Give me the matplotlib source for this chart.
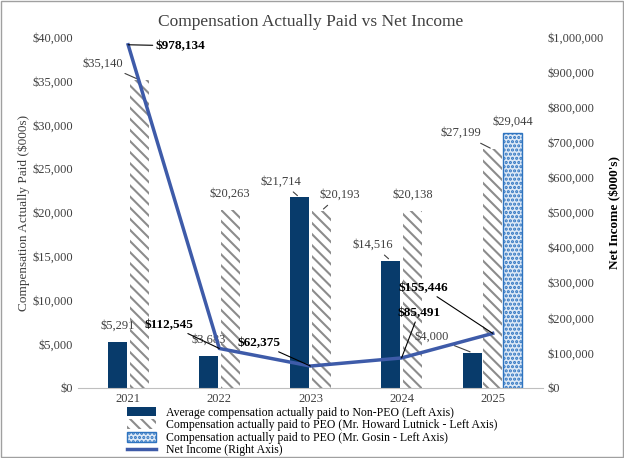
import numpy as np
import matplotlib.pyplot as plt
from matplotlib.ticker import FuncFormatter

plt.rcParams['font.family'] = ['Liberation Serif', 'DejaVu Serif']
plt.rcParams['hatch.linewidth'] = 1.5

years = ['2021', '2022', '2023', '2024', '2025']
non_peo = [5291, 3683, 21714, 14516, 4000]
lutnick = [35140, 20263, 20193, 20138, 27199]
gosin = [None, None, None, None, 29044]
net_income = [978134, 112545, 62375, 85491, 155446]

navy = '#083B6B'
line_c = '#3E5BA9'
x = np.arange(len(years))
w = 0.21

fig = plt.figure(figsize=(6.24, 4.58), dpi=100)
ax = fig.add_axes([0.125, 0.153, 0.745, 0.766])
ax2 = ax.twinx()

off_n = [-0.12, -0.12, -0.12, -0.12, -0.22]
off_l = [0.12, 0.12, 0.12, 0.12, 0.0]
bn = ax.bar(x + np.array(off_n), non_peo, w, color=navy,
            label='Average compensation actually paid to Non-PEO (Left Axis)')
bl = ax.bar(x + np.array(off_l), lutnick, w, color='white', edgecolor='#8C8C8C', hatch='\\\\\\', linewidth=0,
            label='Compensation actually paid to PEO (Mr. Howard Lutnick - Left Axis)')
bg = ax.bar([x[4] + 0.22], [gosin[4]], w, color='#DCE8F6', edgecolor='#2E74C0', hatch='....', linewidth=1,
            label='Compensation actually paid to PEO (Mr. Gosin - Left Axis)')
ln, = ax2.plot(x, net_income, color=line_c, lw=2.5, label='Net Income (Right Axis)')

ax.set_ylim(0, 40000)
ax2.set_ylim(0, 1000000)
ax.set_xlim(-0.55, 4.55)
ax.set_xticks(x)
ax.set_xticklabels(years)
ax.set_yticks(range(0, 40001, 5000))
ax2.set_yticks(range(0, 1000001, 100000))
ax.yaxis.set_major_formatter(FuncFormatter(lambda v, p: f'${v:,.0f}'))
ax2.yaxis.set_major_formatter(FuncFormatter(lambda v, p: f'${v:,.0f}'))
for a in (ax, ax2):
    a.tick_params(length=0, labelsize=9, colors='#404040')
    for s in a.spines.values():
        s.set_visible(False)
ax.spines['bottom'].set_visible(True)
ax.spines['bottom'].set_color('#BFBFBF')
ax.set_ylabel('Compensation Actually Paid ($000s)', fontsize=9.5, color='#404040', labelpad=2)
ax2.set_ylabel("Net Income ($000's)", fontsize=9.5, fontweight='bold', labelpad=4)
ax.set_title('Compensation Actually Paid vs Net Income', fontsize=12.5, color='#404040', pad=8)

lc = dict(arrowstyle='-', color='#404040', lw=0.8)
for b, v, dx in zip(bn, non_peo, [0, 0, -0.2, -0.2, -0.45]):
    xc = b.get_x() + b.get_width() / 2
    ax.annotate(f'${v:,}', (xc, v), xytext=(xc + dx, v + 1500), ha='center', fontsize=9,
                color='#404040', arrowprops=lc if dx else None)
for b, v, dx in zip(bl, lutnick, [-0.4, 0, 0.2, 0, -0.35]):
    xc = b.get_x() + b.get_width() / 2
    ax.annotate(f'${v:,}', (xc, v), xytext=(xc + dx, v + 1500), ha='center', fontsize=9,
                color='#404040', arrowprops=lc if dx else None)
b = bg[0]
xc = b.get_x() + b.get_width() / 2
ax.annotate(f'${gosin[4]:,}', (xc, gosin[4]), xytext=(xc, gosin[4] + 1000), ha='center',
            fontsize=9, color='#404040')

ni_txt = [(0.3, 975000, 'left'), (0.72, 180000, 'right'), (1.2, 128000, 'left'),
          (2.95, 213000, 'left'), (2.97, 285000, 'left')]
for xi, v, (tx, ty, ha) in zip(x, net_income, ni_txt):
    ax2.annotate(f'${v:,}', (xi, v), xytext=(tx, ty), fontsize=9.5, fontweight='bold',
                 ha=ha, va='center',
                 arrowprops=dict(arrowstyle='-', color='black', lw=0.8, shrinkA=0, shrinkB=0))

fig.legend(handles=[bn, bl, bg, ln], loc='lower center', bbox_to_anchor=(0.5, -0.012),
           ncol=1, frameon=False, fontsize=8.5, handlelength=2.5, handleheight=0.9,
           labelspacing=0.05, borderaxespad=0.2)
fig.patches.append(plt.Rectangle((0.002, 0.002), 0.996, 0.996, transform=fig.transFigure,
                                 fill=False, edgecolor='#A0A0A0', lw=1))
fig.savefig('out.png')
